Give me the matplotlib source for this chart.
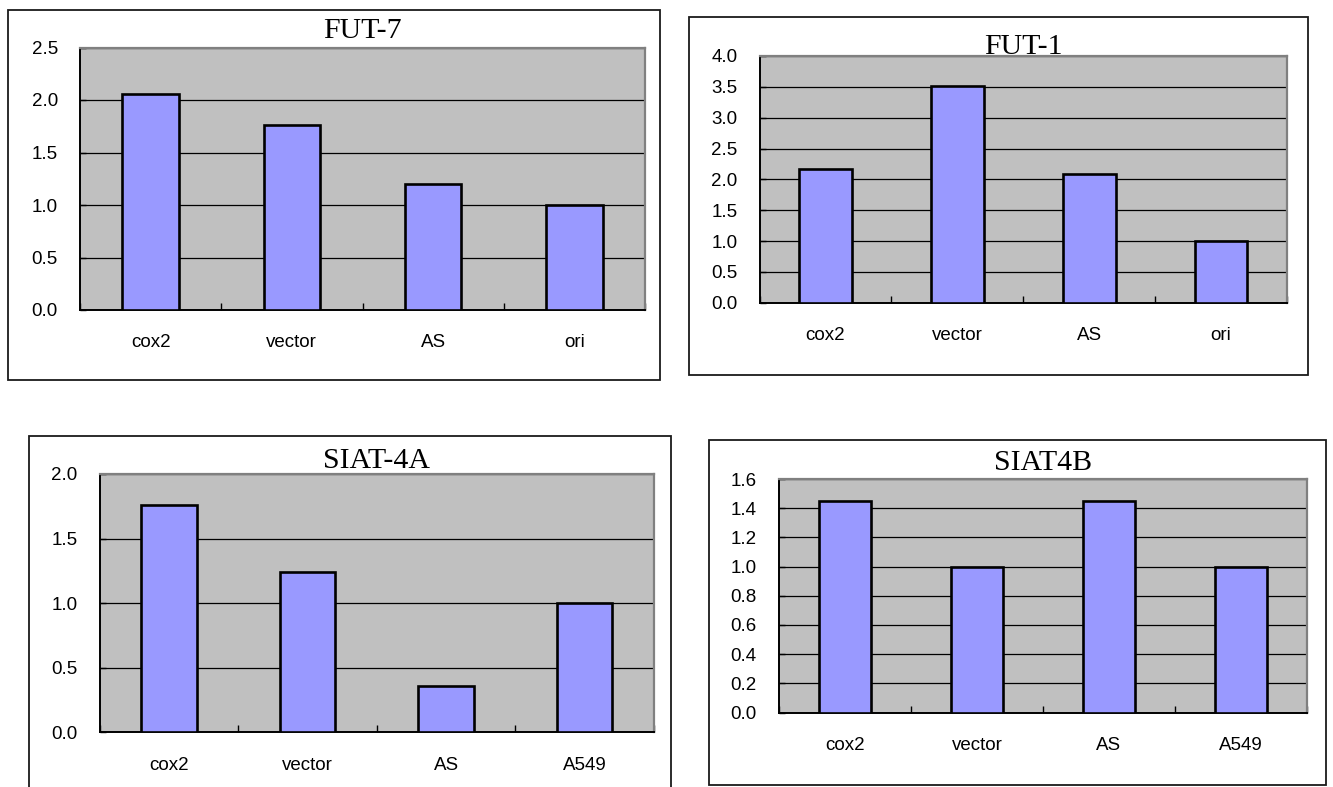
import numpy as np
import matplotlib
matplotlib.use("Agg")
import matplotlib.pyplot as plt
from matplotlib.patches import Rectangle
from matplotlib.ticker import FixedLocator, FormatStrFormatter

# Relative expression levels per gene
groups_fut = ["cox2", "vector", "AS", "ori"]
groups_siat = ["cox2", "vector", "AS", "A549"]

fut7_values = [2.06, 1.76, 1.20, 1.00]
fut1_values = [2.17, 3.51, 2.09, 1.00]
siat4a_values = [1.76, 1.24, 0.36, 1.00]
siat4b_values = [1.45, 1.00, 1.45, 1.00]

titles = ["FUT-7", "FUT-1", "SIAT-4A", "SIAT4B"]
y_maxes = [2.5, 4.0, 2.0, 1.6]
y_steps = [0.5, 0.5, 0.5, 0.2]

W, H = 1333, 787
fig = plt.figure(figsize=(W / 100, H / 100), dpi=100)
fig.patch.set_facecolor("white")

# layout in pixels: plot area (x0, y0, x1, y1), frame (x0, y0, x1, y1), title baseline y
plot_boxes = [(80, 47.5, 645, 310), (759.5, 56, 1287, 302.7),
              (99.6, 474, 654, 732.3), (779, 479, 1307, 712.5)]
frames = [(8, 10, 660, 380), (689, 17, 1308, 375),
          (29, 436, 671, 800), (709, 440, 1326, 784.5)]
title_baselines = [37.5, 54, 467.5, 470.5]

panels = [(groups_fut, fut7_values), (groups_fut, fut1_values),
          (groups_siat, siat4a_values), (groups_siat, siat4b_values)]

SANS = ["Liberation Sans", "DejaVu Sans"]
SERIF = ["Liberation Serif", "DejaVu Serif"]

for i, (cats, vals) in enumerate(panels):
    fx0, fy0, fx1, fy1 = frames[i]
    fig.add_artist(Rectangle((fx0 / W, 1 - fy1 / H), (fx1 - fx0) / W, (fy1 - fy0) / H,
                             transform=fig.transFigure, fill=False,
                             edgecolor="#1a1a1a", linewidth=1.3, zorder=0))

    x0, y0, x1, y1 = plot_boxes[i]
    ax = fig.add_axes([x0 / W, 1 - y1 / H, (x1 - x0) / W, (y1 - y0) / H])
    ax.set_facecolor("#C0C0C0")

    x = np.arange(len(cats))
    ax.bar(x, vals, width=0.4, color="#9999FF", edgecolor="black",
           linewidth=1.9, zorder=3)

    ax.set_xlim(-0.5, len(cats) - 0.5)
    ax.set_ylim(0, y_maxes[i])
    yt = np.round(np.arange(0, y_maxes[i] + 1e-9, y_steps[i]), 2)
    ax.set_yticks(yt)
    ax.yaxis.set_major_formatter(FormatStrFormatter("%.1f"))
    ax.grid(axis="y", color="black", linewidth=0.9, zorder=1)
    ax.set_axisbelow(True)

    ax.set_xticks(x)
    ax.set_xticklabels(cats)
    ax.xaxis.set_minor_locator(FixedLocator(np.arange(-0.5, len(cats), 1.0)))
    ax.tick_params(axis="x", which="major", length=0, pad=17.5, labelsize=13.5)
    ax.tick_params(axis="x", which="minor", direction="in", length=5, width=1,
                   color="black")
    ax.tick_params(axis="y", which="major", direction="in", length=4, width=1,
                   color="black", pad=16, labelsize=13.5)
    for lab in ax.get_xticklabels() + ax.get_yticklabels():
        lab.set_family(SANS)

    for side in ("left", "bottom"):
        ax.spines[side].set_color("black")
        ax.spines[side].set_linewidth(1.4)
    for side in ("top", "right"):
        ax.spines[side].set_color("#808080")
        ax.spines[side].set_linewidth(1.6)

    fig.text(((x0 + x1) / 2) / W, 1 - title_baselines[i] / H, titles[i],
             ha="center", va="baseline", fontsize=21.5, family=SERIF)

fig.savefig("out.png", dpi=100, facecolor="white")
